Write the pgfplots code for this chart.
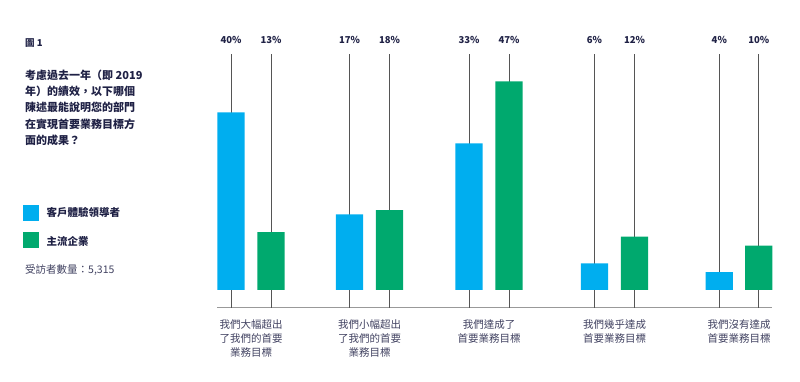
\documentclass[border=0pt]{standalone}
\usepackage{fontspec}
\setmainfont{Noto Sans CJK TC}
\usepackage{pgfplots}
\pgfplotsset{compat=1.18}
\definecolor{cblue}{HTML}{00AEEF}
\definecolor{cgreen}{HTML}{00A96E}
\definecolor{navy}{HTML}{1F2145}
\definecolor{lgray}{HTML}{555555}
\begin{document}
\begin{tikzpicture}
\path[use as bounding box] (0,0) rectangle (800pt,381pt);
% left panel
\node[anchor=west, text=navy, font=\bfseries\fontsize{9.5}{12}\selectfont, inner sep=0pt] at (25pt,{381pt-43.5pt}) {圖 1};
\node[anchor=north west, text=navy, align=left, font=\bfseries\fontsize{11}{16.3}\selectfont, inner sep=0pt] at (25pt,{381pt-69.5pt})
{考慮過去一年（即 2019\\年）的績效，以下哪個\\陳述最能說明您的部門\\在實現首要業務目標方\\面的成果？};
\fill[cblue] (23pt,{381pt-205pt}) rectangle (39pt,{381pt-221pt});
\fill[cgreen] (23pt,{381pt-232pt}) rectangle (39pt,{381pt-248pt});
\node[anchor=west, text=navy, font=\bfseries\fontsize{10.5}{12}\selectfont, inner sep=0pt] at (46.5pt,{381pt-212.7pt}) {客戶體驗領導者};
\node[anchor=west, text=navy, font=\bfseries\fontsize{10.5}{12}\selectfont, inner sep=0pt] at (46.5pt,{381pt-241.7pt}) {主流企業};
\node[anchor=west, text=navy!85, font=\fontsize{10.5}{12}\selectfont, inner sep=0pt] at (25pt,{381pt-270pt}) {受訪者數量：5,315};
\begin{axis}[
  at={(217pt,{381pt-307.7pt})}, anchor=south west,
  scale only axis, width=555pt, height=266.4pt,
  xmin=217, xmax=772, ymin=-4, ymax=56,
  clip=false,
  axis x line=bottom, axis y line=none,
  x axis line style={-, draw=gray!80, line width=0.9pt},
  major tick length=0pt,
  xtick={251,369.5,489,614.5,739},
  xticklabels={{我們大幅超出\\了我們的首要\\業務目標},{我們小幅超出\\了我們的首要\\業務目標},{我們達成了\\首要業務目標},{我們幾乎達成\\首要業務目標},{我們沒有達成\\首要業務目標}},
  xticklabel style={align=center, text=navy!85, anchor=north, yshift=-8pt, font=\fontsize{10.5}{14}\selectfont},
  ytick=\empty,
]
% vertical guide lines
\addplot[ycomb, draw=lgray, line width=0.8pt, mark=none, forget plot] coordinates {
 (231,53.2) (271,53.2) (349.5,53.2) (389.5,53.2) (469,53.2) (509,53.2) (594.5,53.2) (634.5,53.2) (719.3,53.2) (758.8,53.2)};
\addplot[ycomb, draw=lgray, line width=0.8pt, mark=none, forget plot] coordinates {
 (231,-4) (271,-4) (349.5,-4) (389.5,-4) (469,-4) (509,-4) (594.5,-4) (634.5,-4) (719.3,-4) (758.8,-4)};
% bars
\addplot[ybar, bar width=27.3pt, bar shift=0pt, fill=cblue, draw=none] coordinates {
 (231,40) (349.5,17) (469,33) (594.5,6) (719.3,4)};
\addplot[ybar, bar width=27.3pt, bar shift=0pt, fill=cgreen, draw=none] coordinates {
 (271,13) (389.5,18) (509,47) (634.5,12) (758.8,10)};
% percentage labels
\addplot[draw=none, mark=none, point meta=explicit symbolic, nodes near coords,
  every node near coord/.style={anchor=center, text=navy, font=\bfseries\fontsize{9.5}{11}\selectfont, inner sep=0pt}] coordinates {
 (231,56.3)[40\%] (271,56.3)[13\%] (349.5,56.3)[17\%] (389.5,56.3)[18\%] (469,56.3)[33\%]
 (509,56.3)[47\%] (594.5,56.3)[6\%] (634.5,56.3)[12\%] (719.3,56.3)[4\%] (758.8,56.3)[10\%]};
\end{axis}
\end{tikzpicture}
\end{document}
